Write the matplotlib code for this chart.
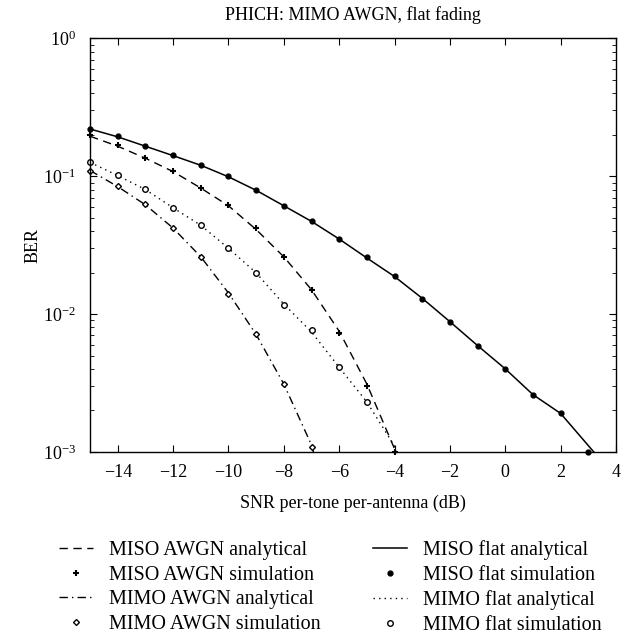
import numpy as np
import matplotlib
matplotlib.use('Agg')
import matplotlib.pyplot as plt
from matplotlib.ticker import LogLocator, NullFormatter

plt.rcParams['font.family'] = ['Liberation Serif', 'DejaVu Serif']
plt.rcParams['mathtext.fontset'] = 'stix'

# SNR grid (dB)
snr = np.arange(-15, 5)

# analytical curves
miso_awgn_an = [0.195, 0.165, 0.135, 0.108, 0.082, 0.061, 0.041, 0.026, 0.015, 0.0075, 0.0031, 0.00105, 0.0002]
miso_flat_an = [0.22, 0.193, 0.165, 0.141, 0.12, 0.099, 0.079, 0.061, 0.047, 0.035, 0.0255, 0.0187, 0.0130,
                0.0088, 0.0059, 0.0040, 0.0026, 0.0019, 0.00111, 0.00065]
mimo_awgn_an = [0.11, 0.084, 0.062, 0.042, 0.026, 0.0142, 0.0071, 0.0031, 0.00112, 0.0002]
mimo_flat_an = [0.126, 0.101, 0.08, 0.059, 0.044, 0.030, 0.0199, 0.0118, 0.0074, 0.0041, 0.0023, 0.0011, 0.00025]

# simulation points
miso_awgn_sim = [0.2, 0.168, 0.135, 0.11, 0.082, 0.062, 0.042, 0.026, 0.015, 0.0073, 0.003, 0.001]
miso_flat_sim = [0.22, 0.195, 0.165, 0.142, 0.12, 0.1, 0.08, 0.061, 0.047, 0.035, 0.026, 0.019, 0.0128,
                 0.0087, 0.0059, 0.0040, 0.0026, 0.0019, 0.001]
mimo_awgn_sim = [0.11, 0.085, 0.063, 0.042, 0.026, 0.014, 0.0072, 0.0031, 0.00108]
mimo_flat_sim = [0.126, 0.102, 0.081, 0.059, 0.044, 0.030, 0.020, 0.0117, 0.0076, 0.0041, 0.0023]

fig = plt.figure(figsize=(6.39, 6.4), dpi=100)
ax = fig.add_axes([0.141, 0.294, 0.823, 0.646])

h1, = ax.plot(snr[:len(miso_awgn_an)], miso_awgn_an, color='k', lw=1.0, dashes=(6, 4))
h2, = ax.plot(snr[:len(miso_awgn_sim)], miso_awgn_sim, 'k+', ms=5, mew=1.5, ls='none', clip_on=False)
h3, = ax.plot(snr[:len(mimo_awgn_an)], mimo_awgn_an, color='k', lw=1.0, dashes=(6, 3, 1, 3))
h4, = ax.plot(snr[:len(mimo_awgn_sim)], mimo_awgn_sim, 'kD', ms=3, mfc='white', mew=1.0, ls='none', clip_on=False)
h5, = ax.plot(snr[:len(miso_flat_an)], miso_flat_an, color='k', lw=1.1)
h6, = ax.plot(snr[:len(miso_flat_sim)], miso_flat_sim, 'k.', ms=7, ls='none', clip_on=False)
h7, = ax.plot(snr[:len(mimo_flat_an)], mimo_flat_an, color='k', lw=1.0, dashes=(1, 3))
h8, = ax.plot(snr[:len(mimo_flat_sim)], mimo_flat_sim, 'ko', ms=4, mfc='white', mew=1.0, ls='none', clip_on=False)

ax.set_yscale('log')
ax.set_xlim(-15, 4)
ax.set_ylim(1e-3, 1)
ax.set_xticks(np.arange(-14, 5, 2))
ax.set_xticklabels(['\u2212' + str(-v) if v < 0 else str(v) for v in range(-14, 5, 2)])
ax.yaxis.set_minor_locator(LogLocator(base=10, subs=np.arange(2, 10)))
ax.yaxis.set_minor_formatter(NullFormatter())
ax.tick_params(which='both', direction='in', top=True, right=True, labelsize=13)
ax.tick_params(which='major', length=5)
ax.tick_params(which='minor', length=3)
ax.tick_params(axis='x', which='major', pad=8.5)
ax.tick_params(axis='y', which='major', pad=10)
for s in ax.spines.values():
    s.set_linewidth(1.0)

ax.set_title('PHICH: MIMO AWGN, flat fading', fontsize=13, pad=13)
ax.set_xlabel('SNR per-tone per-antenna (dB)', fontsize=13, labelpad=10)
ax.set_ylabel('BER', fontsize=13, labelpad=1)

labels = ['MISO AWGN analytical', 'MISO AWGN simulation', 'MIMO AWGN analytical', 'MIMO AWGN simulation',
          'MISO flat analytical', 'MISO flat simulation', 'MIMO flat analytical', 'MIMO flat simulation']
fig.legend([h1, h2, h3, h4, h5, h6, h7, h8], labels, ncol=2, frameon=False, fontsize=14.5,
           loc='upper center', bbox_to_anchor=(0.517, 0.184), handlelength=1.7,
           columnspacing=2.6, labelspacing=0.27, handletextpad=0.8)

fig.savefig('out.png', dpi=100)
